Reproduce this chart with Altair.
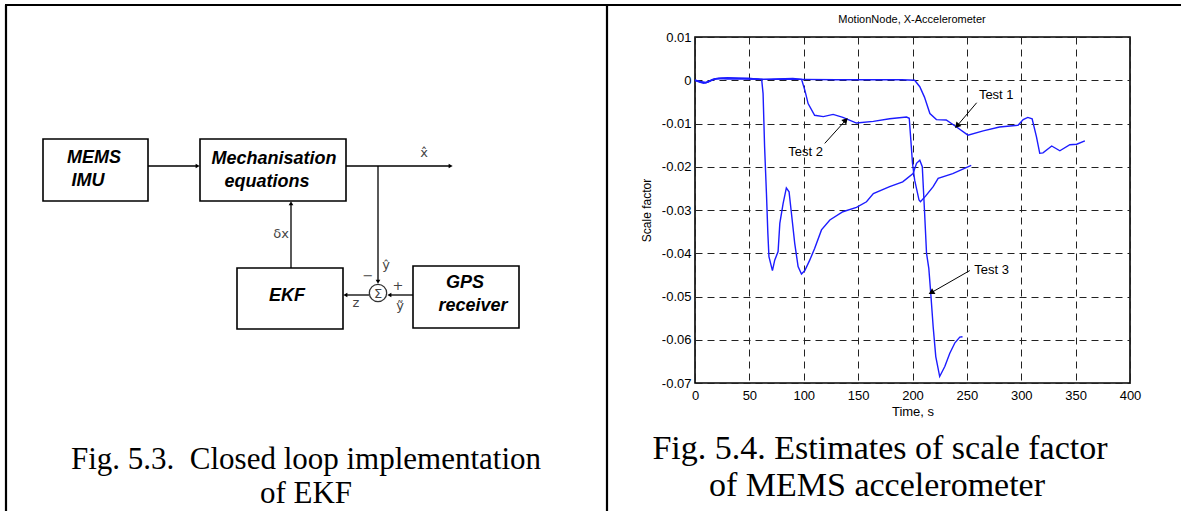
import altair as alt
import pandas as pd

# ---------------- chart data ----------------
t1 = [0, 3, 6, 10, 14, 18, 25, 35, 50, 60, 70, 85, 100, 130, 160, 190, 202, 206.7, 211, 216,
      222, 231, 240.5, 251, 265, 280, 297, 301.8, 306, 310, 314, 317, 320, 328, 335.5, 344.7, 351, 358.5]
v1 = [0, -0.0002, -0.0005, -0.0006, -0.0002, 0.0003, 0.0005, 0.0005, 0.0004, 0.0002,
      0.0002, 0.0003, 0.0002, 0.0001, 0.0001, 0.0001, 0.0, -0.0015, -0.0039, -0.0077,
      -0.0091, -0.0092, -0.0108, -0.0127, -0.0117, -0.0108, -0.0104, -0.0091, -0.0086, -0.0089,
      -0.0131, -0.0169, -0.0168, -0.0152, -0.0163, -0.0149, -0.0148, -0.014]

t2 = [0, 4, 8, 12, 16, 22, 30, 45, 60, 75, 90, 98, 101, 104, 110, 118, 127, 136, 148.5, 164,
      179, 194.5, 197, 198.5, 200, 202, 206, 207.3, 212, 219, 223.6, 237, 254]
v2 = [0, -0.0004, -0.0007, -0.0004, 0.0002, 0.0004, 0.0003, 0.0003, 0.0002, 0.0003,
      0.0004, 0.0002, -0.0023, -0.0054, -0.0081, -0.0084, -0.0079, -0.0086, -0.0099, -0.0095,
      -0.0089, -0.0085, -0.0088, -0.0139, -0.0192, -0.0231, -0.0277, -0.0281, -0.0268, -0.0246,
      -0.0227, -0.0216, -0.0197]

t3 = [0, 5, 10, 15, 20, 30, 40, 50, 58, 61.3, 62.6, 64, 65.7, 67, 68, 71.2, 73.3, 76.4, 78, 81,
      84, 86.5, 88.7, 91.7, 94.8, 97.9, 101, 105.5, 110, 116.3, 124, 136, 148.5, 157.7, 164, 179,
      191, 200.5, 203.7, 206.7, 209, 211, 212.9, 215, 216.8, 219, 221.4, 225, 229.7, 234.3, 239,
      243.5, 246]
v3 = [0, -0.0003, -0.0005, 0, 0.0004, 0.0006, 0.0005, 0.0004, 0.0003, 0.0002,
      -0.0031, -0.0154, -0.0262, -0.0354, -0.0408, -0.044, -0.0416, -0.0396, -0.0331, -0.0285,
      -0.0249, -0.0258, -0.0308, -0.0377, -0.0431, -0.0448, -0.044, -0.0416, -0.0389, -0.0346,
      -0.0323, -0.0304, -0.0294, -0.0281, -0.0262, -0.0246, -0.0235, -0.0216, -0.0192, -0.0185,
      -0.02, -0.03, -0.04, -0.0435, -0.0493, -0.057, -0.0639, -0.0685, -0.0662, -0.0631,
      -0.0607, -0.0594, -0.0593]

x_ticks = [0, 50, 100, 150, 200, 250, 300, 350, 400]
y_ticks = [0.01, 0, -0.01, -0.02, -0.03, -0.04, -0.05, -0.06, -0.07]

# annotations: label, text position, arrow start, arrow tip (data units), head angle
ann_label = ["Test 1", "Test 2", "Test 3"]
ann_tx = [277, 101.8, 272.7]
ann_ty = [-0.0033, -0.0166, -0.0439]
ann_sx = [259, 119.3, 252.7]
ann_sy = [-0.0052, -0.0146, -0.0440]
ann_ex = [241.5, 138, 218]
ann_ey = [-0.0104, -0.0094, -0.0490]
ann_ang = [222, 42, 240]

# ---------------- block diagram (canvas units) ----------------
box_name = ["MEMS", "Mech", "EKF", "GPS"]
box_x1 = [43, 200, 237, 413]
box_y1 = [139, 139, 268, 266]
box_x2 = [148, 346, 343, 519]
box_y2 = [201, 201, 329, 328]

wire_x1 = [148, 346, 378, 413, 369, 291]
wire_y1 = [166, 166, 166, 295, 295, 268]
wire_x2 = [197, 450, 378, 390, 346, 291]
wire_y2 = [166, 166, 281, 295, 295, 204]

head_x = [197, 450, 378, 390, 346, 291]
head_y = [166, 166, 281, 295, 295, 204]
head_ang = [90, 90, 180, 270, 270, 0]

big_txt = ["MEMS", "IMU", "Mechanisation", "equations", "EKF", "GPS", "receiver"]
big_x = [94, 88, 274, 267, 287, 465, 473]
big_y = [158, 181, 159, 182, 296, 283, 306]

small_txt = ["x\u0302", "\u03b4x", "\u0177", "\u2212", "+", "\u1ef9", "z", "\u03a3"]
small_x = [424, 281, 386, 368, 398, 400, 356, 378]
small_y = [153, 234, 265, 276, 286, 306, 303, 294]

cap_txt = ["Fig. 5.3.\u00a0 Closed loop implementation", "of EKF",
           "Fig. 5.4. Estimates of scale factor", "of MEMS accelerometer"]
cap_x = [306, 306, 880, 877]
cap_y = [460, 494, 449, 486]
cap_size = [31, 31, 34, 34]

plot_title = "MotionNode, X-Accelerometer"
title_x, title_y = 912, 20

frame_x1 = [5, 6, 607]
frame_y1 = [5, 5, 5]
frame_x2 = [1181, 6, 607]
frame_y2 = [5, 511, 511]

# ---------------- build ----------------
W, H = 435, 346
PL, PT = 695, 37
CW, CH = 1181, 511

lines = pd.DataFrame({
    "test": ["Test 1"] * len(t1) + ["Test 2"] * len(t2) + ["Test 3"] * len(t3),
    "t": t1 + t2 + t3,
    "v": v1 + v2 + v3,
})
ann = pd.DataFrame({"label": ann_label, "tx": ann_tx, "ty": ann_ty, "sx": ann_sx, "sy": ann_sy,
                    "ex": ann_ex, "ey": ann_ey, "ang": ann_ang})

XS = alt.Scale(domain=[0, 400], nice=False, zero=False)
YS = alt.Scale(domain=[-0.07, 0.01], nice=False, zero=False)
CX = alt.Scale(domain=[0, CW], range=[-PL, CW - PL], nice=False, zero=False)
CY = alt.Scale(domain=[0, CH], range=[-PT, CH - PT], nice=False, zero=False)

FONT = "Liberation Sans"
SERIF = "Liberation Serif"

x_axis = alt.Axis(values=x_ticks, title="Time, s", grid=True, gridDash=[7, 5], gridColor="#222",
                  gridWidth=1, ticks=False, domain=False, labelFont=FONT, labelFontSize=13,
                  labelColor="black", labelPadding=6, labelFlush=False, titleFont=FONT,
                  titleFontSize=13, titleFontWeight="normal", titleColor="black", titlePadding=3,
                  format="d")
y_axis = alt.Axis(values=y_ticks, title="Scale factor", grid=True, gridDash=[7, 5], gridColor="#222",
                  gridWidth=1, ticks=False, domain=False, labelFont=FONT, labelFontSize=13,
                  labelColor="black", labelPadding=4, labelFlush=False,
                  labelExpr="replace(format(datum.value, '.2~f'), '\u2212', '-')",
                  titleFont=FONT, titleFontSize=12, titleFontWeight="normal", titleColor="black",
                  titlePadding=8)

line_layer = alt.Chart(lines).mark_line(color="#1c1cff", strokeWidth=1.4).encode(
    x=alt.X("t:Q", scale=XS, axis=x_axis),
    y=alt.Y("v:Q", scale=YS, axis=y_axis),
    detail="test:N",
)

ann_base = alt.Chart(ann)
ann_rule = ann_base.mark_rule(color="black", strokeWidth=1).encode(
    x=alt.X("sx:Q", scale=XS, axis=None), y=alt.Y("sy:Q", scale=YS, axis=None),
    x2="ex:Q", y2="ey:Q")
ann_head = ann_base.mark_point(shape="triangle", filled=True, color="black", size=45, opacity=1).encode(
    x=alt.X("ex:Q", scale=XS, axis=None), y=alt.Y("ey:Q", scale=YS, axis=None),
    angle=alt.Angle("ang:Q", scale=None))
ann_text = ann_base.mark_text(font=FONT, fontSize=13, color="black", baseline="middle").encode(
    x=alt.X("tx:Q", scale=XS, axis=None), y=alt.Y("ty:Q", scale=YS, axis=None), text="label:N")

frames = pd.DataFrame({"x1": frame_x1, "y1": frame_y1, "x2": frame_x2, "y2": frame_y2})
frame_layer = alt.Chart(frames).mark_rule(color="black", strokeWidth=2.2).encode(
    x=alt.X("x1:Q", scale=CX, axis=None), y=alt.Y("y1:Q", scale=CY, axis=None),
    x2="x2:Q", y2="y2:Q")

boxes = pd.DataFrame({"name": box_name, "x1": box_x1, "y1": box_y1, "x2": box_x2, "y2": box_y2})
box_layer = alt.Chart(boxes).mark_rect(fill="white", stroke="black", strokeWidth=1.6).encode(
    x=alt.X("x1:Q", scale=CX, axis=None), y=alt.Y("y1:Q", scale=CY, axis=None),
    x2="x2:Q", y2="y2:Q")

wires = pd.DataFrame({"x1": wire_x1, "y1": wire_y1, "x2": wire_x2, "y2": wire_y2})
wire_layer = alt.Chart(wires).mark_rule(color="black", strokeWidth=1.3).encode(
    x=alt.X("x1:Q", scale=CX, axis=None), y=alt.Y("y1:Q", scale=CY, axis=None),
    x2="x2:Q", y2="y2:Q")

heads = pd.DataFrame({"x": head_x, "y": head_y, "ang": head_ang})
head_layer = alt.Chart(heads).mark_point(shape="triangle", filled=True, color="black", size=22,
                                         opacity=1).encode(
    x=alt.X("x:Q", scale=CX, axis=None), y=alt.Y("y:Q", scale=CY, axis=None),
    angle=alt.Angle("ang:Q", scale=None))

sig = pd.DataFrame({"x": [small_x[-1]], "y": [small_y[-1] - 1]})
sig_layer = alt.Chart(sig).mark_point(shape="circle", filled=False, color="#333", strokeWidth=1.3,
                                      size=300, opacity=1).encode(
    x=alt.X("x:Q", scale=CX, axis=None), y=alt.Y("y:Q", scale=CY, axis=None))

bigs = pd.DataFrame({"txt": big_txt, "x": big_x, "y": big_y})
big_layer = alt.Chart(bigs).mark_text(font=FONT, fontSize=18, fontWeight="bold", fontStyle="italic",
                                      color="black", baseline="middle", align="center").encode(
    x=alt.X("x:Q", scale=CX, axis=None), y=alt.Y("y:Q", scale=CY, axis=None), text="txt:N")

smalls = pd.DataFrame({"txt": small_txt, "x": small_x, "y": small_y})
small_layer = alt.Chart(smalls).mark_text(font="DejaVu Sans", fontSize=13, color="#444",
                                          baseline="middle", align="center").encode(
    x=alt.X("x:Q", scale=CX, axis=None), y=alt.Y("y:Q", scale=CY, axis=None), text="txt:N")

caps = pd.DataFrame({"txt": cap_txt, "x": cap_x, "y": cap_y, "size": cap_size})
cap_layer = alt.Chart(caps).mark_text(font=SERIF, color="black", baseline="middle",
                                      align="center").encode(
    x=alt.X("x:Q", scale=CX, axis=None), y=alt.Y("y:Q", scale=CY, axis=None), text="txt:N",
    size=alt.Size("size:Q", scale=None))

ttl = pd.DataFrame({"txt": [plot_title], "x": [title_x], "y": [title_y]})
title_layer = alt.Chart(ttl).mark_text(font=FONT, fontSize=11, color="black", baseline="middle",
                                       align="center").encode(
    x=alt.X("x:Q", scale=CX, axis=None), y=alt.Y("y:Q", scale=CY, axis=None), text="txt:N")

chart = alt.layer(
    line_layer, ann_rule, ann_head, ann_text,
    frame_layer, wire_layer, box_layer, head_layer, sig_layer, big_layer, small_layer, cap_layer,
    title_layer,
).resolve_scale(x="independent", y="independent").properties(
    width=W, height=H,
    padding={"left": PL, "top": PT, "right": CW - PL - W, "bottom": CH - PT - H},
    autosize=alt.AutoSizeParams(type="none"),
    background="white",
).configure_view(stroke="black", strokeWidth=1.6)

chart.save("out.html", embed_options={"renderer": "svg", "actions": False})
